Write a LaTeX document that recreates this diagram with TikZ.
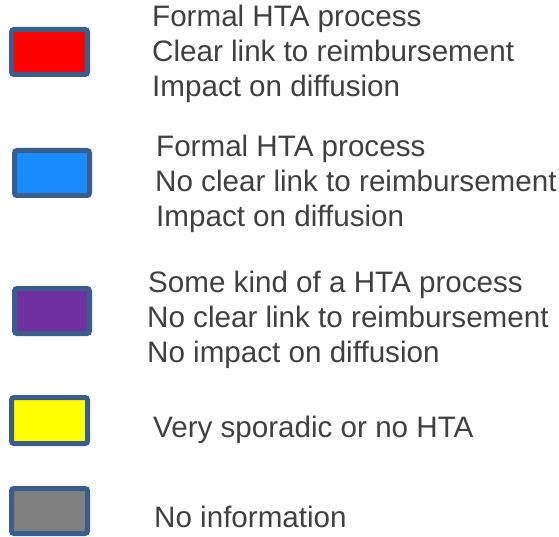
\documentclass[tikz,border=0pt]{standalone}
\usepackage{fontspec}
\setmainfont{Liberation Sans}
\definecolor{frame}{HTML}{3A5E8C}
\definecolor{txt}{HTML}{404040}
\definecolor{cRed}{HTML}{FF0000}
\definecolor{cBlue}{HTML}{1A8CFF}
\definecolor{cPurple}{HTML}{7030A0}
\definecolor{cYellow}{HTML}{FFFF00}
\definecolor{cGray}{HTML}{808080}
\tikzset{
  swatch/.style={draw=frame, line width=5pt, rounded corners=2.5pt},
  legtext/.style={anchor=base west, inner sep=0pt, text=txt,
    font=\fontsize{29.6}{35}\selectfont}
}
\begin{document}
\begin{tikzpicture}[x=1pt,y=-1pt]
\useasboundingbox (0,0) rectangle (559,537);
% colour swatches
\path[swatch, fill=cRed]    (11.5,29.5)  rectangle (87.5,74.5);
\path[swatch, fill=cBlue]   (14.5,150.5) rectangle (89.5,195.5);
\path[swatch, fill=cPurple] (14.5,288.5) rectangle (89.5,333.5);
\path[swatch, fill=cYellow] (11.5,397.5) rectangle (87.5,443.5);
\path[swatch, fill=cGray]   (11.5,488.5) rectangle (87.5,533.5);
% descriptions
\node[legtext] (a1) at (152,27) {Formal HTA process};
\node[legtext] (a2) at (152,62) {Clear link to reimbursement};
\node[legtext] (a3) at (152,97) {Impact on diffusion};
\node[legtext] (b1) at (156,157) {Formal HTA process};
\node[legtext] (b2) at (155,192) {No clear link to reimbursement};
\node[legtext] (b3) at (156,227) {Impact on diffusion};
\node[legtext] (c1) at (148,292) {Some kind of a HTA process};
\node[legtext] (c2) at (147,327) {No clear link to reimbursement};
\node[legtext] (c3) at (147,362) {No impact on diffusion};
\node[legtext] (d1) at (153,437) {Very sporadic or no HTA};
\node[legtext] (e1) at (154,527) {No information};
\end{tikzpicture}
\end{document}
